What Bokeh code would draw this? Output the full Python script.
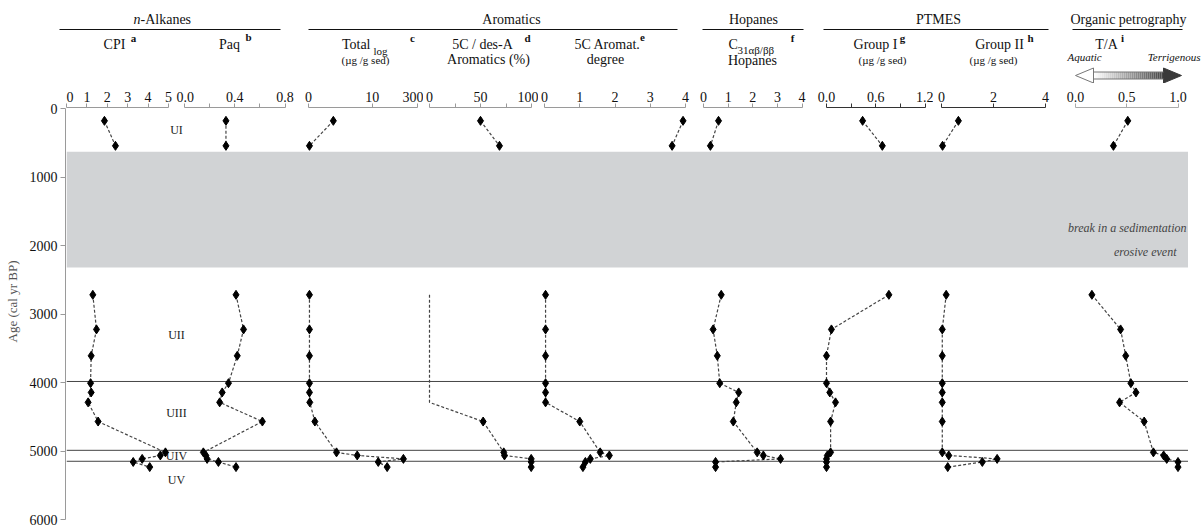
from bokeh.plotting import figure
from bokeh.models import Range1d, FixedTicker, BoxAnnotation, Span
from bokeh.layouts import column, row
from bokeh.embed import file_html
from bokeh.resources import INLINE
from bokeh.core.properties import value

# ---------------- data ----------------
AGES = [180, 545, 2720, 3225, 3610, 4010, 4145, 4290, 4570, 5020, 5065, 5115, 5160, 5235]
CPI = [1.86, 2.40, 1.29, 1.47, 1.21, 1.18, 1.21, 1.06, 1.55, 4.85, 4.60, 3.71, 3.27, 4.08]
PAQ = [0.33, 0.33, 0.41, 0.47, 0.42, 0.35, 0.30, 0.28, 0.62, 0.15, 0.17, 0.18, 0.27, 0.41]
TOTAL_LOG = [3.9, 0.15, 0.15, 0.15, 0.15, 0.15, 0.15, 0.2, 1.0, 4.4, 7.65, 14.9, 10.95, 12.35]
AROM_5C_PCT = [50, 68.6, 0, 0, 0, 0, 0, 0, 52.6, 72.8, 73.5, 99.7, 99.7, 99.7]
AROM_DEGREE = [3.93, 3.62, 0.03, 0.03, 0.03, 0.03, 0.03, 0.03, 1.0, 1.58, 1.84, 1.30, 1.16, 1.09]
HOPANES = [0.61, 0.28, 0.72, 0.39, 0.56, 0.66, 1.43, 1.33, 1.21, 2.18, 2.43, 3.13, 0.49, 0.49]
GROUP_I = [0.44, 0.68, 0.76, 0.06, 0.0, 0.0, 0.04, 0.11, 0.05, 0.05, 0.01, 0.0, 0.0, 0.0]
GROUP_II = [0.65, 0.04, 0.18, 0.03, 0.03, 0.03, 0.03, 0.03, 0.03, 0.03, 0.28, 2.14, 1.57, 0.24]
TA = [0.51, 0.37, 0.16, 0.44, 0.49, 0.54, 0.59, 0.43, 0.67, 0.76, 0.86, 0.89, 1.0, 1.0]
N_UPPER = 2  # samples above the hiatus

HIATUS = (630, 2320)
UNIT_BOUNDS = [3985, 4990, 5150]
UNITS = ["UI", "UII", "UIII", "UIV", "UV"]
UNIT_AGES = [317, 3300, 4450, 5069, 5420]
AGE_TICKS = [0, 1000, 2000, 3000, 4000, 5000, 6000]

TOTAL_TICKS = [0, 10, 17.1]
TOTAL_LABELS = ["0", "10", "300"]

SERIF = "Liberation Serif"

# panel layout: (name, values, px of 0, px of vmax, vmax, ticks, labels, axis colour)
PANELS = [
    ("cpi", CPI, 66, 168, 5, [0, 1, 2, 3, 4, 5], ["0", "1", "2", "3", "4", "5"], "#9a9a9a"),
    ("paq", PAQ, 184, 284.5, 0.8, [0, 0.2, 0.4, 0.6, 0.8], ["0.0", "", "0.4", "", "0.8"], "#9a9a9a"),
    ("tot", TOTAL_LOG, 308, 371.7, 10, TOTAL_TICKS, TOTAL_LABELS, "#9a9a9a"),
    ("aro", AROM_5C_PCT, 429, 531, 100, [0, 25, 50, 75, 100], ["0", "", "50", "", "100"], "#9a9a9a"),
    ("deg", AROM_DEGREE, 544, 685, 4, [0, 1, 2, 3, 4], ["0", "1", "2", "3", "4"], "#9a9a9a"),
    ("hop", HOPANES, 703, 801.5, 4, [0, 1, 2, 3, 4], ["0", "1", "2", "3", "4"], "#9a9a9a"),
    ("g1", GROUP_I, 826, 924.5, 1.2, [0, 0.3, 0.6, 0.9, 1.2], ["0.0", "", "0.6", "", "1.2"], "#333333"),
    ("g2", GROUP_II, 941, 1045, 4, [0, 2, 4], ["0", "2", "4"], "#333333"),
    ("ta", TA, 1075, 1177.5, 1.0, [0, 0.5, 1.0], ["0.0", "0.5", "1.0"], "#aaaaaa"),
]
BOUNDS = [66, 176, 296, 423, 538, 694, 814, 933, 1060, 1188]  # frame edges in page pixels

HEADER_H = 83
AX_H = 25
MAIN_H = 411
BOTTOM_PAD = 7
LEFT_W = BOUNDS[0]

# ---------------- header ----------------
header = figure(width=1202, height=HEADER_H, x_range=Range1d(0, 1202), y_range=Range1d(HEADER_H, 0),
                x_axis_location=None, y_axis_location=None, toolbar_location=None,
                output_backend="svg", min_border=0)
header.outline_line_color = None
header.grid.visible = False


def htext(x, y, s, size="14px", align="center", style="normal", color="#111111"):
    header.text(x=[x], y=[y], text=[s], text_font=value(SERIF), text_font_size=size,
                text_align=align, text_baseline="middle", text_font_style=style, text_color=color)


# group titles
htext(140, 19, "n", align="right", style="italic")
htext(140, 19, "-Alkanes", align="left")
htext(511, 19, "Aromatics")
htext(753, 19, "Hopanes")
htext(938, 19, "PTMES")
htext(1128, 19, "Organic petrography")
for x0, x1 in [(59, 280), (308, 677), (702, 803), (823, 1048), (1072, 1182)]:
    header.line(x=[x0, x1], y=[29, 29], line_color="#111111", line_width=1)

# variable titles
htext(114, 44, "CPI")
htext(133, 37, "a", size="11px", style="bold")
htext(229, 44, "Paq")
htext(248, 36, "b", size="11px", style="bold")
htext(370, 44, "Total", align="right")
htext(373, 50, "log", size="11px", align="left")
htext(412, 37, "c", size="11px", style="bold")
htext(365, 59, "(µg /g sed)", size="11px")
htext(482, 44, "5C / des-A")
htext(527, 37, "d", size="11px", style="bold")
htext(488, 59, "Aromatics (%)")
htext(607, 44, "5C Aromat.")
htext(642, 37, "e", size="11px", style="bold")
htext(605, 59, "degree")
htext(728, 44, "C", align="left")
htext(737, 49, "31αβ/ββ", size="11px", align="left")
htext(792, 37, "f", size="11px", style="bold")
htext(752, 60, "Hopanes")
htext(875, 44, "Group I")
htext(902, 37, "g", size="11px", style="bold")
htext(882, 59, "(µg /g sed)", size="11px")
htext(999, 44, "Group II")
htext(1030, 37, "h", size="11px", style="bold")
htext(993, 59, "(µg /g sed)", size="11px")
htext(1106, 44, "T/A")
htext(1122, 37, "i", size="11px", style="bold")
htext(1067, 56, "Aquatic", size="11px", align="left", style="italic")
htext(1200, 56, "Terrigenous", size="11px", align="right", style="italic")

# gradient double arrow
ay = 75
n_steps = 35
bx0, bx1 = 1093, 1163
step = (bx1 - bx0) / n_steps
lefts = [bx0 + i * step for i in range(n_steps)]
rights = [bx0 + (i + 1) * step for i in range(n_steps)]
cols = []
for i in range(n_steps):
    t = i / (n_steps - 1)
    g = int(255 - t * (255 - 70))
    cols.append("#%02x%02x%02x" % (g, g, g))
header.quad(left=lefts, right=rights, top=[ay - 3.5] * n_steps, bottom=[ay + 3.5] * n_steps,
            fill_color=cols, line_color=None)
header.patch(x=[1075, 1093, 1093], y=[ay, ay - 7.5, ay + 7.5], fill_color="white", line_color="#777777", line_width=1)
header.patch(x=[1181, 1163, 1163], y=[ay, ay - 7.5, ay + 7.5], fill_color="#3a3a3a", line_color="#3a3a3a", line_width=1)
header.line(x=[1093, 1163], y=[ay - 3.5, ay - 3.5], line_color="#777777", line_width=1)
header.line(x=[1093, 1163], y=[ay + 3.5, ay + 3.5], line_color="#777777", line_width=1)

# ---------------- axis strip (one figure per panel) ----------------
axis_figs = []
extra = {}
for i, (name, vals, p0, p1, vmax, ticks, labels, acol) in enumerate(PANELS):
    k = (p1 - p0) / vmax
    L, R = BOUNDS[i], BOUNDS[i + 1]
    f = figure(width=R - L, height=AX_H, x_range=Range1d((L - p0) / k, (R - p0) / k),
               y_range=Range1d(0, 1), x_axis_location="above", y_axis_location=None,
               toolbar_location=None, output_backend="svg",
               min_border_left=0, min_border_right=0, min_border_top=AX_H - 1, min_border_bottom=0)
    f.outline_line_color = None
    f.grid.visible = False
    ax = f.xaxis[0]
    ax.bounds = (0, ticks[-1])
    ax.ticker = FixedTicker(ticks=ticks)
    ax.major_label_overrides = {t: lab for t, lab in zip(ticks, labels)}
    ax.minor_tick_line_color = None
    ax.major_tick_out = 4
    ax.major_tick_in = 0
    ax.axis_line_color = acol
    ax.major_tick_line_color = acol
    ax.major_label_standoff = 2
    ax.major_label_text_font = SERIF
    ax.major_label_text_font_size = "14px"
    ax.major_label_text_color = "#111111"
    axis_figs.append(f)
    extra[name] = Range1d((BOUNDS[0] - p0) / k, (BOUNDS[-1] - p0) / k)

# ---------------- main data area ----------------
main = figure(width=BOUNDS[-1] - BOUNDS[0], height=MAIN_H,
              x_range=Range1d(BOUNDS[0], BOUNDS[-1]), y_range=Range1d(6000, 0),
              x_axis_location=None, y_axis_location=None, toolbar_location=None,
              output_backend="svg", min_border=0)
main.outline_line_color = None
main.grid.visible = False
main.extra_x_ranges = extra

main.add_layout(BoxAnnotation(top=HIATUS[0], bottom=HIATUS[1], fill_color="#d1d3d5", fill_alpha=1.0,
                              line_color=None, level="underlay"))
for b in UNIT_BOUNDS:
    main.add_layout(Span(location=b, dimension="width", line_color="#444444", line_width=1, level="underlay"))

main.text(x=[176] * len(UNITS), y=UNIT_AGES, text=UNITS, text_font=value(SERIF),
          text_font_size="12px", text_align="center", text_baseline="middle", text_color="#222222")
main.text(x=[1186], y=[1750], text=["break in a sedimentation"], text_font=value(SERIF),
          text_font_size="12px", text_font_style="italic", text_align="right", text_baseline="middle",
          text_color="#444444")
main.text(x=[1176], y=[2100], text=["erosive event"], text_font=value(SERIF),
          text_font_size="12px", text_font_style="italic", text_align="right", text_baseline="middle",
          text_color="#444444")

for (name, vals, p0, p1, vmax, ticks, labels, acol) in PANELS:
    for seg_v, seg_a in [(vals[:N_UPPER], AGES[:N_UPPER]), (vals[N_UPPER:], AGES[N_UPPER:])]:
        main.line(x=seg_v, y=seg_a, x_range_name=name, line_color="#444444", line_width=1.2,
                  line_dash="3 2")
    if name == "aro":
        mx = [v for v in vals if v > 0]
        my = [a for v, a in zip(vals, AGES) if v > 0]
    else:
        mx, my = vals, AGES
    main.scatter(x=mx, y=my, x_range_name=name, marker="diamond", size=9,
                 fill_color="black", line_color="black")

# ---------------- left age axis ----------------
px_per_age = MAIN_H / 6000.0
left = figure(width=LEFT_W, height=AX_H + MAIN_H + BOTTOM_PAD, x_range=Range1d(0, 1),
              y_range=Range1d(6000, -AX_H / px_per_age),
              x_axis_location=None, y_axis_location="left", toolbar_location=None,
              output_backend="svg", min_border_left=LEFT_W - 1, min_border_right=0,
              min_border_top=0, min_border_bottom=BOTTOM_PAD)
left.outline_line_color = None
left.grid.visible = False
yax = left.yaxis[0]
yax.bounds = (0, 6000)
yax.ticker = FixedTicker(ticks=AGE_TICKS)
yax.minor_tick_line_color = None
yax.major_tick_out = 5
yax.major_tick_in = 0
yax.axis_line_color = "#9a9a9a"
yax.major_tick_line_color = "#9a9a9a"
yax.major_label_standoff = 3
yax.major_label_text_font = SERIF
yax.major_label_text_font_size = "14px"
yax.major_label_text_color = "#111111"
yax.axis_label = "Age (cal yr BP)"
yax.axis_label_text_font = SERIF
yax.axis_label_text_font_size = "13px"
yax.axis_label_text_font_style = "normal"
yax.axis_label_text_color = "#555555"
yax.axis_label_standoff = 7

layout = column(header, row(left, column(row(*axis_figs), main)))

with open("out.html", "w") as fh:
    fh.write(file_html(layout, INLINE))
